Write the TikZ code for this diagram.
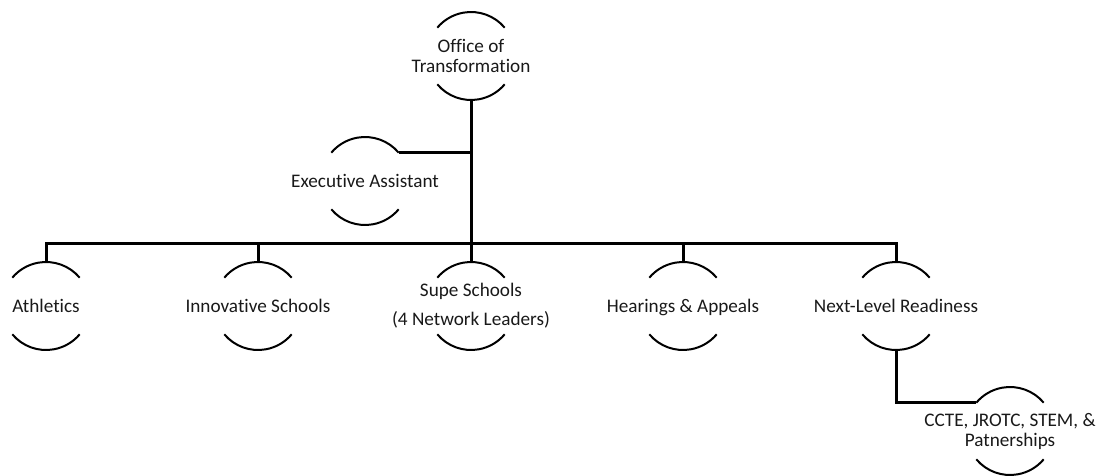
\documentclass[tikz,border=0pt]{standalone}
\usepackage{fontspec}
\setmainfont{Carlito}[Ligatures=NoCommon]
\begin{document}
\begin{tikzpicture}
[
    x=1pt, y=1pt,
    font=\fontsize{19.2}{20}\selectfont,
    unit/.style={shape=circle, minimum size=88pt, inner sep=0pt, outer sep=0pt},
    txt/.style={align=center, text=black!90, inner sep=0pt},
    single/.style={txt, text height=13pt, text depth=0pt},
    rim/.style={line width=2pt},
    link/.style={line width=3pt},
]
\useasboundingbox (0,0) rectangle (1097,475);
\node[unit, label={[txt]center:{Office of\\Transformation}}] (office) at (471,419) {};
\node[unit, label={[single]center:Executive Assistant}] (assist) at (365,294) {};
\node[unit, label={[single]center:Athletics}] (athletics) at (46,169) {};
\node[unit, label={[single]center:Innovative Schools}] (innovative) at (258,169) {};
\node[unit, label={[txt]center:{Supe Schools\\[9pt](4 Network Leaders)}}] (supe) at (471,169) {};
\node[unit, label={[single]center:Hearings \& Appeals}] (hearings) at (683,169) {};
\node[unit, label={[single]center:Next-Level Readiness}] (nextlevel) at (896,169) {};
\node[unit, label={[txt]center:{CCTE, JROTC, STEM, \&\\Patnerships}}] (ccte) at (1010,44) {};
\coordinate (bus) at (office.south |- 0,232);
% open rims
\foreach \n in {office,assist,athletics,innovative,supe,hearings,nextlevel,ccte}
{
    \draw[rim] (\n.40) arc[start angle=40, end angle=140, radius=44pt];
    \draw[rim] (\n.220) arc[start angle=220, end angle=320, radius=44pt];
}
% connectors
\draw[link] (office.south) -- (supe.north);
\draw[link] (assist.40) -- (assist.40 -| office.south);
\draw[link] (athletics.north) -- (athletics.north |- bus) -- (nextlevel.north |- bus) -- (nextlevel.north);
\foreach \n in {innovative,hearings}
    \draw[link] (bus -| \n.north) -- (\n.north);
\draw[link] (nextlevel.south) |- (ccte.140);
\end{tikzpicture}
\end{document}
